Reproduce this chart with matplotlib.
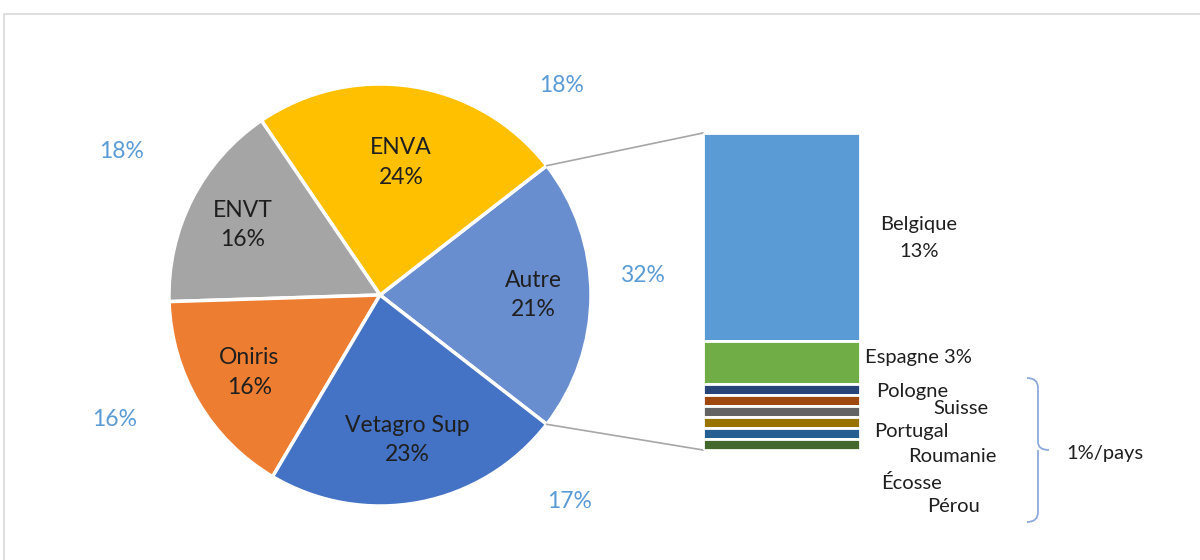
import numpy as np
import matplotlib.pyplot as plt
from matplotlib.patches import Rectangle, PathPatch
from matplotlib.path import Path

plt.rcParams['font.family'] = ['Lato', 'DejaVu Sans']

# pie data (counter-clockwise from the right)
schools = ['Autre', 'ENVA', 'ENVT', 'Oniris', 'Vetagro Sup']
school_pct = [21, 24, 16, 16, 23]
school_colors = ['#698ED0', '#FFC000', '#A5A5A5', '#ED7D31', '#4472C4']

# blue labels floating around the pie
outer_labels = ['32%', '18%', '18%', '16%', '17%']

# breakdown of "Autre" (top to bottom): bar heights are counts, labels are %
countries = ['Belgique', 'Espagne', 'Pologne', 'Suisse', 'Portugal',
             'Roumanie', 'Écosse', 'Pérou']
country_count = [19, 4, 1, 1, 1, 1, 1, 1]
country_pct = [13, 3, 1, 1, 1, 1, 1, 1]
country_colors = ['#5B9BD5', '#70AD47', '#264478', '#9E480E', '#636363',
                  '#997300', '#255E91', '#43682B']

W, H = 1200, 560
fig = plt.figure(figsize=(12, 5.6), dpi=100)
ax = fig.add_axes([0, 0, 1, 1])


def py(y):
    # pixel row -> data y
    return H - y


cx, cy, R = 380, py(295), 211
start = -school_pct[0] / 100 * 360 / 2
wedges, _ = ax.pie(school_pct, colors=school_colors, startangle=start,
                   counterclock=True, center=(cx, cy), radius=R, frame=True,
                   wedgeprops=dict(edgecolor='white', linewidth=2.5))
ax.set_xlim(0, W)
ax.set_ylim(0, H)
ax.set_aspect('equal')
ax.axis('off')

# label distance from the centre, per wedge (fraction of radius)
label_r = [0.725, 0.635, 0.73, 0.72, 0.70]
tc = '#1F1F1F'
for w, name, p, lr in zip(wedges, schools, school_pct, label_r):
    a = np.deg2rad((w.theta1 + w.theta2) / 2)
    ax.text(cx + lr * R * np.cos(a), cy + lr * R * np.sin(a),
            f'{name}\n{p}%', ha='center', va='center', fontsize=16.5,
            color=tc, linespacing=1.5)

outer_pos = [(642, 276), (562, 85), (122, 152), (115, 420), (570, 502)]
for lab, (x, y) in zip(outer_labels, outer_pos):
    ax.text(x, py(y), lab, ha='center', va='center', fontsize=16.5,
            color='#5B9BD5')

# stacked bar for "Autre"
bx0, bx1, btop, bbot = 703, 860, 133, 450
bax = fig.add_axes([bx0 / W, py(bbot) / H, (bx1 - bx0) / W, (bbot - btop) / H])
total = sum(country_count)
bottom = total
for v, c in zip(country_count, country_colors):
    bottom -= v
    bax.bar(0, v, bottom=bottom, width=1, color=c, edgecolor='white',
            linewidth=2)
bax.set_xlim(-0.5, 0.5)
bax.set_ylim(0, total)
bax.axis('off')

# connector lines
t1 = np.deg2rad(wedges[0].theta2)
t0 = np.deg2rad(wedges[0].theta1)
ax.plot([cx + R * np.cos(t1), bx0], [cy + R * np.sin(t1), py(btop)],
        color='#A6A6A6', lw=1.2)
ax.plot([cx + R * np.cos(t0), bx0], [cy + R * np.sin(t0), py(bbot)],
        color='#A6A6A6', lw=1.2)

# bar labels
ax.text(919, py(238), f'{countries[0]}\n{country_pct[0]}%', ha='center',
        va='center', fontsize=14.5, color=tc, linespacing=1.65)
ax.text(865, py(357), f'{countries[1]} {country_pct[1]}%', ha='left',
        va='center', fontsize=14.5, color=tc)
small_pos = [(876, 391), (933, 409), (874, 431), (908, 457), (881, 483),
             (927, 507)]
for name, (x, y) in zip(countries[2:], small_pos):
    ax.text(x, py(y), name, ha='left', va='center', fontsize=14.5, color=tc)

# curly brace
bx, top_y, bot_y, mid_y = 1027, 378, 522, 450
verts = [(bx, top_y), (bx + 11, top_y), (bx + 11, top_y + 10),
         (bx + 11, mid_y - 8), (bx + 11, mid_y), (bx + 22, mid_y),
         (bx + 11, mid_y), (bx + 11, mid_y + 8),
         (bx + 11, bot_y - 10), (bx + 11, bot_y), (bx, bot_y)]
codes = [Path.MOVETO, Path.CURVE3, Path.CURVE3, Path.LINETO, Path.CURVE3,
         Path.CURVE3, Path.MOVETO, Path.CURVE3, Path.LINETO, Path.CURVE3,
         Path.CURVE3]
verts = [(x, py(y)) for x, y in verts]
ax.add_patch(PathPatch(Path(verts, codes), fill=False, edgecolor='#8EA9DB',
                       lw=1.3))
ax.text(1066, py(454), '1%/pays', ha='left', va='center', fontsize=14.5,
        color=tc)

# chart frame (right and bottom edges fall outside the picture)
fig.patches.append(Rectangle((4 / W, -0.1), 1.2, py(14) / H + 0.1,
                             fill=False, edgecolor='#D9D9D9', lw=1.2,
                             transform=fig.transFigure, figure=fig))

fig.savefig('out.png', dpi=100)
